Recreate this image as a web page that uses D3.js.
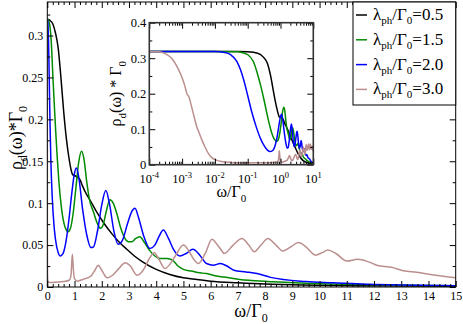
<!DOCTYPE html>
<html>
<head>
<meta charset="utf-8">
<script src="https://cdn.jsdelivr.net/npm/d3@7"></script>
<style>
body { margin: 0; background: #fff; }
svg { display: block; }
svg text { font-family: 'Liberation Serif', 'Times New Roman', Times, serif !important; }
</style>
</head>
<body>
<div id="chart"></div>
<script>
// points are [omega/Gamma0, rho_d * Gamma0]
var lambdaLabels = ["0.5", "1.5", "2.0", "3.0"];
var lineColors = ["#000000", "#008b00", "#0000ff", "#bc8f8f"];

var black = [[1e-4,0.319],[1e-3,0.319],[0.01,0.319],[0.05,0.319],[0.1,0.318],[0.2,0.314],[0.3,0.303],[0.4,0.285],
  [0.5,0.25],[0.6,0.21],[0.7,0.177],[0.8,0.153],[0.88,0.139],[0.93,0.134],[1.0,0.133],[1.1,0.131],[1.2,0.128],
  [1.3,0.12],[1.4,0.113],[1.6,0.102],[1.84,0.088],[2.06,0.077],[2.36,0.064],[2.6,0.055],[2.92,0.045],[3.2,0.037],
  [3.5,0.03],[4.0,0.021],[4.5,0.015],[5.0,0.011],[5.5,0.009],[6,0.007],[7,0.005],[8,0.0035],[9,0.0028],[10,0.002],
  [12,0.0015],[15,0.001]];

var green = [[1e-4,0.319],[0.01,0.319],[0.05,0.318],[0.08,0.314],[0.1,0.31],[0.15,0.29],[0.2,0.255],[0.25,0.222],
  [0.31,0.185],[0.37,0.152],[0.43,0.124],[0.5,0.1],[0.55,0.087],[0.62,0.075],[0.7,0.068],[0.77,0.066],[0.85,0.07],
  [0.95,0.088],[1.05,0.118],[1.15,0.148],[1.26,0.162],[1.35,0.152],[1.45,0.125],[1.55,0.104],[1.69,0.09],[1.85,0.075],
  [1.95,0.07],[2.05,0.074],[2.15,0.088],[2.3,0.104],[2.42,0.1],[2.55,0.088],[2.7,0.07],[2.85,0.058],[2.98,0.054],
  [3.1,0.054],[3.25,0.058],[3.4,0.06],[3.55,0.054],[3.75,0.044],[3.95,0.037],[4.15,0.034],[4.4,0.034],[4.6,0.032],
  [4.8,0.025],[5.0,0.021],[5.3,0.019],[5.6,0.017],[5.85,0.016],[6.2,0.013],[6.5,0.012],[7.07,0.009],[7.5,0.0078],
  [8.3,0.0062],[9.5,0.0044],[11,0.0032],[13,0.0022],[15,0.0016]];

var blue = [[1e-4,0.319],[0.01,0.319],[0.02,0.316],[0.03,0.31],[0.046,0.292],[0.06,0.268],[0.075,0.24],[0.1,0.195],
  [0.13,0.152],[0.18,0.108],[0.25,0.072],[0.3,0.057],[0.4,0.041],[0.48,0.037],[0.58,0.04],[0.7,0.057],[0.8,0.082],
  [0.9,0.112],[1.0,0.136],[1.07,0.142],[1.15,0.132],[1.3,0.092],[1.45,0.062],[1.6,0.047],[1.7,0.048],[1.85,0.068],
  [2.0,0.098],[2.15,0.115],[2.28,0.1],[2.45,0.066],[2.6,0.051],[2.75,0.055],[2.95,0.076],[3.1,0.09],[3.22,0.094],
  [3.35,0.083],[3.55,0.06],[3.77,0.046],[3.95,0.05],[4.1,0.06],[4.26,0.068],[4.45,0.058],[4.65,0.044],[4.87,0.037],
  [5.1,0.04],[5.35,0.045],[5.6,0.038],[5.85,0.028],[6.1,0.026],[6.35,0.028],[6.6,0.025],[6.85,0.02],[7.3,0.018],
  [7.7,0.016],[8.2,0.0115],[9.5,0.0065],[10.5,0.005],[11.7,0.0032],[13,0.0025],[15,0.0015]];

var brown = [[1e-4,0.319],[2e-4,0.318],[3e-4,0.313],[4.8e-4,0.3],[7.6e-4,0.27],[1e-3,0.245],[1.23e-3,0.22],
  [1.4e-3,0.2],[1.6e-3,0.192],[1.95e-3,0.163],[2.4e-3,0.13],[2.8e-3,0.107],[3.3e-3,0.09],[4e-3,0.07],[5e-3,0.05],
  [6.3e-3,0.032],[8e-3,0.02],[0.011,0.013],[0.016,0.009],[0.025,0.007],[0.036,0.0058],[0.1,0.0055],[0.3,0.0058],
  [0.6,0.0065],[0.8,0.008],[0.87,0.014],[0.92,0.039],[0.96,0.02],[1.0,0.01],[1.1,0.007],[1.3,0.009],[1.6,0.013],
  [1.75,0.02],[1.87,0.026],[2.0,0.02],[2.2,0.011],[2.4,0.014],[2.6,0.021],[2.87,0.029],[3.05,0.025],[3.3,0.014],
  [3.5,0.019],[3.75,0.034],[3.93,0.041],[4.1,0.033],[4.32,0.022],[4.5,0.027],[4.7,0.037],[5.0,0.05],[5.2,0.043],
  [5.36,0.034],[5.55,0.028],[5.8,0.04],[6.05,0.057],[6.25,0.05],[6.35,0.046],[6.5,0.04],[6.8,0.049],[7.15,0.058],
  [7.4,0.05],[7.6,0.042],[7.85,0.05],[8.1,0.058],[8.4,0.05],[8.65,0.043],[8.95,0.048],[9.22,0.053],[9.5,0.048],
  [9.85,0.038],[10.1,0.041],[10.3,0.044],[10.6,0.04],[11.0,0.031],[11.4,0.033],[11.8,0.03],[12.1,0.026],
  [12.65,0.0235],[13.07,0.0195],[13.56,0.0175],[14.2,0.0143],[15,0.011]];

var mainXTicks = [0,1,2,3,4,5,6,7,8,9,10,11,12,13,14,15];
var mainYTicks = [0,0.05,0.1,0.15,0.2,0.25,0.3];
var mainYLabels = ["0","0.05","0.1","0.15","0.2","0.25","0.3"];
var insetXTicks = [1e-4,1e-3,1e-2,1e-1,1,10];
var insetXExp = ["-4","-3","-2","-1","0","1"];
var insetYTicks = [0,0.1,0.2,0.3,0.4];
var insetYLabels = ["0","0.1","0.2","0.3","0.4"];

(function(d3) {
  var series = [black, green, blue, brown];
  var W = 463, H = 324;
  var left = 47.3, right = 455.7, top = 2, bottom = 287;

  var svg = d3.select("#chart").append("svg")
      .attr("width", W).attr("height", H);

  var x = d3.scaleLinear().domain([0, 15]).range([left, right]);
  var y = d3.scaleLinear().domain([0, 0.34]).range([bottom, top]);

  function clean(g) {
    g.select(".domain").remove();
    g.selectAll("line").attr("stroke", "#000");
  }

// MAIN CURVES
  svg.append("clipPath").attr("id", "mainclip").append("rect")
      .attr("x", left).attr("y", top).attr("width", right - left).attr("height", bottom - top);

  var line = d3.line()
      .x(function(d) { return x(d[0]); })
      .y(function(d) { return y(d[1]); })
      .curve(d3.curveMonotoneX);

  svg.append("g").attr("clip-path", "url(#mainclip)")
    .selectAll("path").data(series).enter().append("path")
      .attr("d", line)
      .attr("fill", "none")
      .attr("stroke", function(d, i) { return lineColors[i]; })
      .attr("stroke-width", 1.5);

// MAIN AXES
  var xMinor = [];
  for (var v = 0; v <= 15.001; v += 0.2) if (Math.abs(v - Math.round(v)) > 0.01) xMinor.push(v);
  var yMinor = [0.025, 0.075, 0.125, 0.175, 0.225, 0.275, 0.325];

  svg.append("g").attr("transform", "translate(0," + bottom + ")")
      .call(d3.axisBottom(x).tickValues(mainXTicks).tickSize(-6).tickPadding(4).tickFormat(d3.format("d")))
      .call(clean).attr("font-size", 12);
  svg.append("g").attr("transform", "translate(0," + bottom + ")")
      .call(d3.axisBottom(x).tickValues(xMinor).tickSize(-3).tickFormat("")).call(clean);
  svg.append("g").attr("transform", "translate(0," + top + ")")
      .call(d3.axisTop(x).tickValues(mainXTicks).tickSize(-6).tickFormat("")).call(clean);
  svg.append("g").attr("transform", "translate(0," + top + ")")
      .call(d3.axisTop(x).tickValues(xMinor).tickSize(-3).tickFormat("")).call(clean);

  svg.append("g").attr("transform", "translate(" + left + ",0)")
      .call(d3.axisLeft(y).tickValues(mainYTicks).tickSize(-6).tickPadding(4)
        .tickFormat(function(d, i) { return mainYLabels[i]; }))
      .call(clean).attr("font-size", 12);
  svg.append("g").attr("transform", "translate(" + left + ",0)")
      .call(d3.axisLeft(y).tickValues(yMinor).tickSize(-3).tickFormat("")).call(clean);
  svg.append("g").attr("transform", "translate(" + right + ",0)")
      .call(d3.axisRight(y).tickValues(mainYTicks).tickSize(-6).tickFormat("")).call(clean);
  svg.append("g").attr("transform", "translate(" + right + ",0)")
      .call(d3.axisRight(y).tickValues(yMinor).tickSize(-3).tickFormat("")).call(clean);

  svg.append("rect")
      .attr("x", left).attr("y", top).attr("width", right - left).attr("height", bottom - top)
      .attr("fill", "none").attr("stroke", "#000").attr("stroke-width", 1);

  // axis titles
  var xt = svg.append("text").attr("x", 251).attr("y", 317)
      .attr("text-anchor", "middle").attr("font-size", 18);
  xt.append("tspan").text("ω/Γ");
  xt.append("tspan").attr("dy", 5).attr("font-size", 12).text("0");

  var yt = svg.append("text").attr("transform", "translate(22,138) rotate(-90)")
      .attr("text-anchor", "middle").attr("font-size", 18);
  yt.append("tspan").text("ρ");
  yt.append("tspan").attr("dy", 5).attr("font-size", 12).text("d");
  yt.append("tspan").attr("dy", -5).text("(ω)*Γ");
  yt.append("tspan").attr("dy", 5).attr("font-size", 12).text("0");

// INSET
  var il = 149.3, ir = 313.3, it = 22.7, ib = 164.7;
  var xi = d3.scaleLog().domain([1e-4, 10]).range([il, ir]);
  var yi = d3.scaleLinear().domain([0, 0.4]).range([ib, it]);

  svg.append("rect").attr("x", il).attr("y", it).attr("width", ir - il).attr("height", ib - it)
      .attr("fill", "#fff");

  svg.append("clipPath").attr("id", "insetclip").append("rect")
      .attr("x", il).attr("y", it).attr("width", ir - il).attr("height", ib - it);

  var iline = d3.line()
      .x(function(d) { return xi(d[0]); })
      .y(function(d) { return yi(d[1]); })
      .curve(d3.curveMonotoneX);

  svg.append("g").attr("clip-path", "url(#insetclip)")
    .selectAll("path").data(series).enter().append("path")
      .attr("d", iline)
      .attr("fill", "none")
      .attr("stroke", function(d, i) { return lineColors[i]; })
      .attr("stroke-width", 1.5);

  var xiMinor = [];
  for (var e = -4; e < 1; e++) for (var k = 2; k <= 9; k++) xiMinor.push(k * Math.pow(10, e));
  var yiMinor = [0.05, 0.15, 0.25, 0.35];

  svg.append("g").attr("transform", "translate(0," + ib + ")")
      .call(d3.axisBottom(xi).tickValues(insetXTicks).tickSize(-6).tickFormat("")).call(clean);
  svg.append("g").attr("transform", "translate(0," + ib + ")")
      .call(d3.axisBottom(xi).tickValues(xiMinor).tickSize(-3).tickFormat("")).call(clean);
  svg.append("g").attr("transform", "translate(0," + it + ")")
      .call(d3.axisTop(xi).tickValues(insetXTicks).tickSize(-6).tickFormat("")).call(clean);
  svg.append("g").attr("transform", "translate(0," + it + ")")
      .call(d3.axisTop(xi).tickValues(xiMinor).tickSize(-3).tickFormat("")).call(clean);

  svg.append("g").attr("transform", "translate(" + il + ",0)")
      .call(d3.axisLeft(yi).tickValues(insetYTicks).tickSize(-6).tickPadding(3)
        .tickFormat(function(d, i) { return insetYLabels[i]; }))
      .call(clean).attr("font-size", 12.5);
  svg.append("g").attr("transform", "translate(" + il + ",0)")
      .call(d3.axisLeft(yi).tickValues(yiMinor).tickSize(-3).tickFormat("")).call(clean);
  svg.append("g").attr("transform", "translate(" + ir + ",0)")
      .call(d3.axisRight(yi).tickValues(insetYTicks).tickSize(-6).tickFormat("")).call(clean);
  svg.append("g").attr("transform", "translate(" + ir + ",0)")
      .call(d3.axisRight(yi).tickValues(yiMinor).tickSize(-3).tickFormat("")).call(clean);

  var xl = svg.append("g").selectAll("text").data(insetXTicks).enter().append("text")
      .attr("x", function(d) { return xi(d); })
      .attr("y", ib + 18.5)
      .attr("text-anchor", "middle").attr("font-size", 12.5);
  xl.append("tspan").text("10");
  xl.append("tspan").attr("dy", -5).attr("font-size", 8.5)
      .text(function(d, i) { return insetXExp[i]; });

  svg.append("rect").attr("x", il).attr("y", it).attr("width", ir - il).attr("height", ib - it)
      .attr("fill", "none").attr("stroke", "#333").attr("stroke-width", 1.6);

  var ixt = svg.append("text").attr("x", (il + ir) / 2).attr("y", 197)
      .attr("text-anchor", "middle").attr("font-size", 16);
  ixt.append("tspan").text("ω/Γ");
  ixt.append("tspan").attr("dy", 5).attr("font-size", 11).text("0");

  var iyt = svg.append("text").attr("transform", "translate(121," + ((it + ib) / 2) + ") rotate(-90)")
      .attr("text-anchor", "middle").attr("font-size", 16);
  iyt.append("tspan").text("ρ");
  iyt.append("tspan").attr("dy", 5).attr("font-size", 11).text("d");
  iyt.append("tspan").attr("dy", -5).text("(ω) * Γ");
  iyt.append("tspan").attr("dy", 5).attr("font-size", 11).text("0");

// LEGEND
  var lx = 353, ly = 2;
  svg.append("rect").attr("x", lx).attr("y", ly).attr("width", right - lx).attr("height", 103)
      .attr("fill", "#fff").attr("stroke", "#000").attr("stroke-width", 1);

  var items = svg.append("g").selectAll("g").data(lambdaLabels).enter().append("g")
      .attr("transform", function(d, i) { return "translate(" + lx + "," + (15 + i * 24.8) + ")"; });
  items.append("line").attr("x1", 3).attr("x2", 14).attr("y1", 0).attr("y2", 0)
      .attr("stroke", function(d, i) { return lineColors[i]; }).attr("stroke-width", 1.5);
  var lt = items.append("text").attr("x", 20).attr("y", 5).attr("font-size", 17);
  lt.append("tspan").text("λ");
  lt.append("tspan").attr("dy", 4).attr("font-size", 11).text("ph");
  lt.append("tspan").attr("dy", -4).text("/Γ");
  lt.append("tspan").attr("dy", 4).attr("font-size", 11).text("0");
  lt.append("tspan").attr("dy", -4).text(function(d) { return "=" + d; });

})(window.d3);
</script>
</body>
</html>
